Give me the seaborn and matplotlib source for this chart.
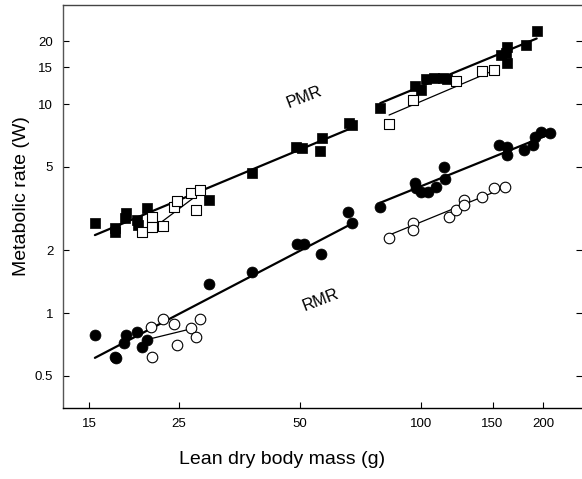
import matplotlib
matplotlib.use("Agg")
import matplotlib.pyplot as plt
import seaborn as sns
import pandas as pd
from matplotlib.ticker import FixedLocator, FixedFormatter, NullLocator

sns.set_theme(style="white")
plt.rcParams['font.family'] = ['Liberation Sans', 'DejaVu Sans']
plt.rcParams['text.color'] = 'black'
plt.rcParams['axes.labelcolor'] = 'black'

# ---- data ----
# PMR, filled squares
pmr_f_x = [15.5, 17.4, 17.4, 18.4, 18.5, 19.7, 19.8, 20.9, 29.7, 38.1, 48.8, 50.6, 56.1, 56.6, 66.3, 67.3,
           79.0, 96.1, 100.0, 102.8, 107.7, 113.0, 116.0, 157.0, 163.0, 163.0, 162.0, 182.0, 193.5]
pmr_f_y = [2.70, 2.55, 2.45, 2.84, 3.00, 2.79, 2.64, 3.17, 3.47, 4.66, 6.25, 6.18, 5.96, 6.85, 8.14, 7.95,
           9.6, 12.2, 11.7, 13.2, 13.4, 13.4, 13.2, 17.2, 18.8, 15.7, 17.6, 19.2, 22.3]
# PMR, open squares
pmr_o_x = [20.3, 21.5, 21.5, 22.9, 24.3, 24.7, 26.9, 28.3, 27.6,
           83.1, 95.4, 122.0, 141.0, 151.0]
pmr_o_y = [2.45, 2.87, 2.59, 2.61, 3.23, 3.43, 3.74, 3.90, 3.11,
           7.99, 10.5, 12.9, 14.4, 14.6]
# RMR, filled circles
rmr_f_x = [15.5, 17.4, 17.5, 18.3, 18.5, 19.7, 20.3, 20.9, 29.7, 38.1, 49.2, 51.0, 56.2, 65.8, 67.2,
           79.0, 96.1, 97.0, 100.0, 103.6, 108.7, 114.0, 114.4, 156.0, 163.0, 163.0, 179.5, 189.0, 191.0, 198.0, 208.5]
rmr_f_y = [0.785, 0.618, 0.610, 0.716, 0.785, 0.814, 0.690, 0.743, 1.37, 1.565, 2.15, 2.15, 1.92, 3.05, 2.70,
           3.23, 4.20, 3.95, 3.81, 3.81, 4.02, 5.01, 4.36, 6.36, 6.25, 5.70, 6.03, 6.36, 6.97, 7.38, 7.24]
# RMR, open circles
rmr_o_x = [21.3, 21.5, 22.9, 24.3, 24.7, 26.9, 27.6, 28.3,
           83.1, 95.4, 95.4, 116.7, 122.0, 127.5, 127.5, 141.0, 151.0, 161.0]
rmr_o_y = [0.86, 0.618, 0.933, 0.886, 0.703, 0.845, 0.765, 0.933,
           2.29, 2.70, 2.49, 2.89, 3.11, 3.47, 3.29, 3.58, 3.95, 4.02]

# fitted lines (end points)
fit_thick = {
    "pmr_left":  ([15.5, 67.0], [2.36, 7.67]),
    "pmr_right": ([79.0, 193.0], [10.1, 20.6]),
    "rmr_left":  ([15.5, 66.3], [0.61, 2.64]),
    "rmr_right": ([79.0, 205.0], [3.37, 7.1]),
}
fit_thin = {
    "pmr_left":  ([21.3, 28.9], [2.49, 3.88]),
    "pmr_right": ([83.1, 155.0], [8.86, 14.8]),
    "rmr_left":  ([20.7, 27.2], [0.743, 0.845]),
    "rmr_right": ([83.1, 161.0], [2.36, 3.98]),
}

x_ticks = [15, 25, 50, 100, 150, 200]
x_tick_labels = ["15", "25", "50", "100", "150", "200"]
y_ticks = [0.5, 1, 2, 5, 10, 15, 20]
y_tick_labels = ["0.5", "1", "2", "5", "10", "15", "20"]

# ---- figure ----
fig = plt.figure(figsize=(5.82, 4.79), dpi=100)
ax = fig.add_axes([63/582, 1-408/479, 519/582, 403/479])
ax.set_xscale("log")
ax.set_yscale("log")

for key, (xs, ys) in fit_thick.items():
    sns.lineplot(x=xs, y=ys, ax=ax, color="black", lw=1.6, zorder=2, estimator=None, sort=False)
for key, (xs, ys) in fit_thin.items():
    sns.lineplot(x=xs, y=ys, ax=ax, color="black", lw=0.9, zorder=2, estimator=None, sort=False)

sns.scatterplot(x=pmr_f_x, y=pmr_f_y, ax=ax, marker="s", s=52, color="black",
                edgecolor="black", linewidth=0.5, zorder=3)
sns.scatterplot(x=pmr_o_x, y=pmr_o_y, ax=ax, marker="s", s=50, facecolor="white",
                edgecolor="black", linewidth=0.8, zorder=3)
sns.scatterplot(x=rmr_f_x, y=rmr_f_y, ax=ax, marker="o", s=62, color="black",
                edgecolor="black", linewidth=0.5, zorder=3)
sns.scatterplot(x=rmr_o_x, y=rmr_o_y, ax=ax, marker="o", s=58, facecolor="white",
                edgecolor="black", linewidth=0.8, zorder=3)

ax.set_xlim(12.92, 250)
ax.set_ylim(0.351, 29.8)

ax.xaxis.set_major_locator(FixedLocator(x_ticks))
ax.xaxis.set_major_formatter(FixedFormatter(x_tick_labels))
ax.yaxis.set_major_locator(FixedLocator(y_ticks))
ax.yaxis.set_major_formatter(FixedFormatter(y_tick_labels))
ax.xaxis.set_minor_locator(NullLocator())
ax.yaxis.set_minor_locator(NullLocator())

ax.tick_params(axis="both", which="major", direction="in", length=4.5, width=0.8,
               labelsize=9.5, colors="black", labelcolor="black", pad=7)
ax.tick_params(axis="y", right=True, left=True)
ax.tick_params(axis="x", bottom=True, top=False)

for side in ["left", "bottom", "top", "right"]:
    ax.spines[side].set_linewidth(1.0)
ax.spines["left"].set_color("#555555")
ax.spines["bottom"].set_color("black")
ax.spines["top"].set_color("#444444")
ax.spines["right"].set_visible(False)

ax.set_xlabel("Lean dry body mass (g)", fontsize=14, color="black")
ax.set_ylabel("Metabolic rate (W)", fontsize=14, color="black")
# label centres as in the reference
ax.xaxis.set_label_coords((282 - 63) / 519, -(460 - 408) / 403)
ax.yaxis.set_label_coords(-(63 - 22) / 519, (408 - 196.5) / 403)
ax.xaxis.label.set_va("center")
ax.yaxis.label.set_va("center")

ax.text(51.1, 10.8, "PMR", fontsize=12, rotation=21, ha="center", va="center", color="black")
ax.text(56.4, 1.154, "RMR", fontsize=12, rotation=21, ha="center", va="center", color="black")

fig.savefig("out.png", dpi=100)
